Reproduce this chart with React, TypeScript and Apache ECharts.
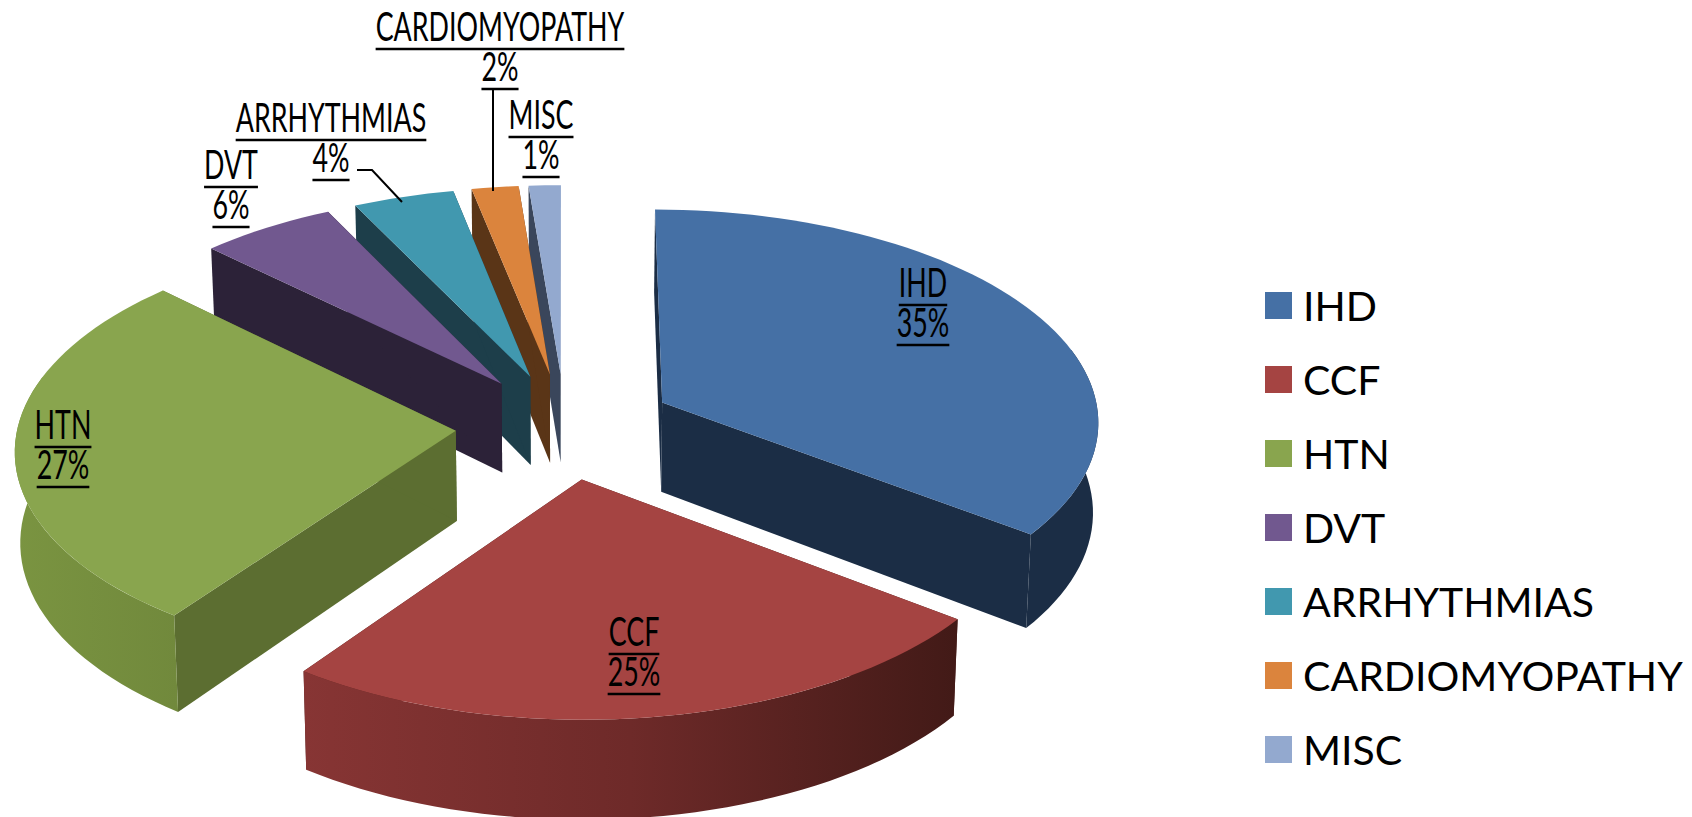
import React, { useEffect, useRef } from "react";
import * as echarts from "echarts";

const categories = ["IHD", "CCF", "HTN", "DVT", "ARRHYTHMIAS", "CARDIOMYOPATHY", "MISC"];
// printed, rounded labels
const percentLabels = ["35%", "25%", "27%", "6%", "4%", "2%", "1%"];
// shares
const shares = [35.4, 24.7, 27.4, 5.5, 4.1, 1.9, 1.3];

const topColors = ["#4570a5", "#a54442", "#89a54e", "#71588f", "#4198af", "#db843d", "#93a9cf"];
const wallColors = ["#1b2d45", "#4a1c19", "#5c6e31", "#2c2238", "#1d3e4a", "#5a3517", "#3a465b"];
const outerStops: string[][] = [
  ["#1b2d45", "#1b2d45"],
  ["#873534", "#6e2a29", "#421a17"],
  ["#7a9441", "#71893c"],
  ["#2c2238", "#2c2238"],
  ["#1d3e4a", "#1d3e4a"],
  ["#5a3517", "#5a3517"],
  ["#3a465b", "#3a465b"],
];

// label anchor: centre x, first-line baseline y
const labelX = [923, 634, 63, 231, 331, 500, 541];
const labelBase = [302, 651, 444, 184, 137, 46, 134];

const VIEW = { cx: 565, cy: 426, rx: 438, ry: 212, k: 0.08, explode: 0.25, height: 90, inset: 0.99 };
const FONT = "Lato";
const LABEL_SIZE = 41;
const LABEL_SQUEEZE = 0.655;
const LINE_PITCH = 40;

const total = shares.reduce((a, b) => a + b, 0);

function project(u: number, v: number, lower: boolean): number[] {
  const s = 1 / (1 - VIEW.k * v);
  const x = VIEW.cx + VIEW.rx * u * s;
  const y = VIEW.cy + VIEW.ry * v * s;
  if (!lower) return [x, y];
  return [VIEW.cx + (x - VIEW.cx) * VIEW.inset, y + VIEW.height * s];
}

const rad = (d: number) => (d * Math.PI) / 180;

function sliceShapes(start: number, end: number, index: number) {
  const mid = rad((start + end) / 2);
  const ax = VIEW.explode * Math.sin(mid);
  const av = -VIEW.explode * Math.cos(mid);
  const rim = (deg: number, lower: boolean) =>
    project(ax + Math.sin(rad(deg)), av - Math.cos(rad(deg)), lower);
  const apexTop = project(ax, av, false);
  const apexLow = project(ax, av, true);

  const arc: number[] = [];
  const n = Math.max(4, Math.ceil((end - start) / 2));
  for (let i = 0; i <= n; i++) arc.push(start + ((end - start) * i) / n);

  const children: any[] = [];
  const poly = (points: number[][], fill: any) =>
    children.push({ type: "polygon", shape: { points }, style: { fill, stroke: "none" } });

  poly([rim(start, false), apexTop, apexLow, rim(start, true)], wallColors[index]);
  poly([rim(end, false), apexTop, apexLow, rim(end, true)], wallColors[index]);

  const a = Math.max(start, 75);
  const b = Math.min(end, 285);
  if (b > a) {
    const m = Math.max(4, Math.ceil((b - a) / 2));
    const upper: number[][] = [];
    const lowerPts: number[][] = [];
    for (let i = 0; i <= m; i++) {
      const d = a + ((b - a) * i) / m;
      upper.push(rim(d, false));
      lowerPts.unshift(rim(d, true));
    }
    const stops = outerStops[index];
    const colors = stops.map((color, i) => ({ offset: i / (stops.length - 1), color }));
    poly(upper.concat(lowerPts), new echarts.graphic.LinearGradient(0, 0, 1, 0, colors));
  }
  poly([apexTop, ...arc.map((d) => rim(d, false))], topColors[index]);
  return { type: "group", children };
}

// paint back slices first
const depthRank = (() => {
  let acc = 0;
  const depth = shares.map((p) => {
    const mid = ((acc + p / 2) / total) * 360;
    acc += p;
    return -Math.cos(rad(mid));
  });
  const order = depth.map((d, i) => [d, i]).sort((x, y) => x[0] - y[0]);
  const rank: number[] = [];
  order.forEach((o, r) => (rank[o[1]] = r));
  return rank;
})();

const measure = (text: string) => {
  const ctx = document.createElement("canvas").getContext("2d")!;
  ctx.font = `${LABEL_SIZE}px ${FONT}`;
  return ctx.measureText(text).width * LABEL_SQUEEZE;
};

function labelGraphics() {
  const out: any[] = [];
  categories.forEach((name, i) => {
    [name, percentLabels[i]].forEach((line, j) => {
      const y = labelBase[i] + j * LINE_PITCH;
      const w = measure(line);
      out.push({
        type: "text",
        x: labelX[i],
        y,
        scaleX: LABEL_SQUEEZE,
        z: 30,
        style: {
          text: line,
          fill: "#000",
          font: `${LABEL_SIZE}px ${FONT}`,
          textAlign: "center",
          textVerticalAlign: "bottom",
        },
      });
      out.push({
        type: "line",
        z: 30,
        shape: { x1: labelX[i] - w / 2, y1: y + 3, x2: labelX[i] + w / 2, y2: y + 3 },
        style: { stroke: "#000", lineWidth: 2.5 },
      });
    });
  });
  out.push({
    type: "polyline",
    z: 30,
    shape: { points: [[402, 202], [372, 170], [357, 170]] },
    style: { stroke: "#000", lineWidth: 2, fill: "none" },
  });
  out.push({
    type: "line",
    z: 30,
    shape: { x1: 493, y1: 191, x2: 493, y2: 89 },
    style: { stroke: "#000", lineWidth: 2 },
  });
  return out;
}

export default function App() {
  const ref = useRef<HTMLDivElement>(null);
  useEffect(() => {
    document.body.style.margin = "0";
    const chart = echarts.init(ref.current!, null, { renderer: "svg" });
    let acc = 0;
    const series = categories.map((name, i) => {
      const start = (acc / total) * 360;
      acc += shares[i];
      const end = (acc / total) * 360;
      return {
        type: "custom",
        name,
        coordinateSystem: "none",
        z: 2 + depthRank[i],
        silent: true,
        itemStyle: { color: topColors[i] },
        data: [[shares[i], start, end]],
        renderItem: (_p: any, api: any) => sliceShapes(api.value(1), api.value(2), i),
      };
    });
    chart.setOption({
      animation: false,
      backgroundColor: "#fff",
      legend: {
        orient: "vertical",
        left: 1265,
        top: 285,
        padding: 0,
        icon: "rect",
        itemWidth: 27,
        itemHeight: 27,
        itemGap: 33,
        selectedMode: false,
        textStyle: { fontFamily: FONT, fontSize: 41, color: "#000", padding: [0, 0, 0, 6] },
        data: categories,
      },
      graphic: { elements: labelGraphics() },
      series,
    });
    return () => chart.dispose();
  }, []);
  return <div ref={ref} style={{ width: 1692, height: 817 }} />;
}
